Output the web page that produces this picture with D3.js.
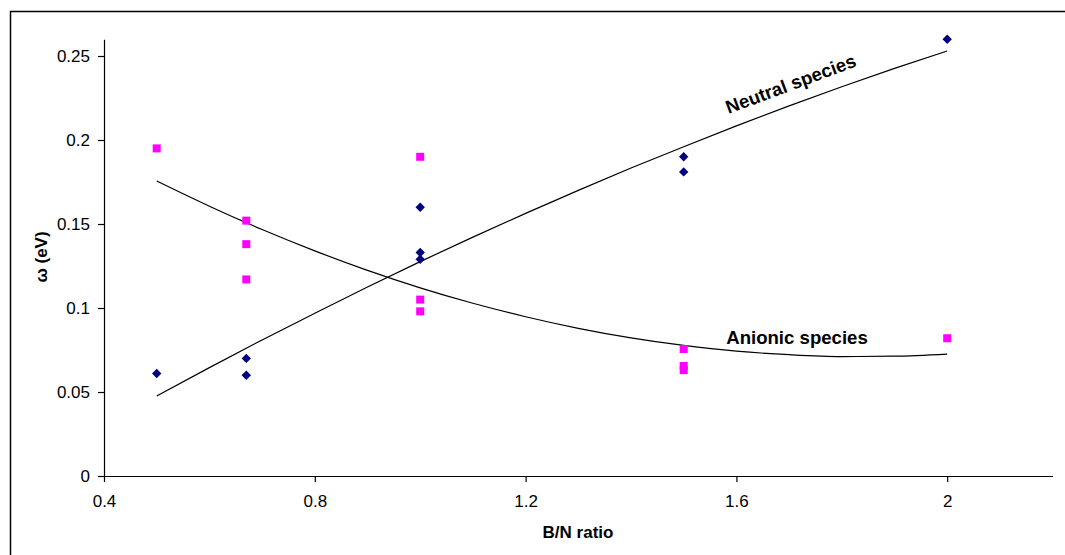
<!DOCTYPE html>
<html>
<head>
<meta charset="utf-8">
<script src="https://cdn.jsdelivr.net/npm/d3@7"></script>
<style>
  html, body { margin: 0; padding: 0; background: #fff; }
  svg { display: block; font-family: "Liberation Sans", Arial, sans-serif; }
</style>
</head>
<body>
<svg id="chart" width="1065" height="555"></svg>
<script>
// ---- data ----
const neutralX = [0.5, 0.67, 0.67, 1.0, 1.0, 1.0, 1.5, 1.5, 2.0];
const neutralY = [0.061, 0.070, 0.060, 0.160, 0.133, 0.129, 0.190, 0.181, 0.260];
const anionicX = [0.5, 0.67, 0.67, 0.67, 1.0, 1.0, 1.0, 1.5, 1.5, 1.5, 2.0];
const anionicY = [0.195, 0.152, 0.138, 0.117, 0.190, 0.105, 0.098, 0.0756, 0.0655, 0.063, 0.082];
// trend curves
const trendX = [0.5, 0.6, 0.7, 0.8, 0.9, 1.0, 1.1, 1.2, 1.3, 1.4, 1.5, 1.6, 1.7, 1.8, 1.9, 2.0];
const neutralTrendY = [0.0476, 0.0645, 0.0810, 0.0969, 0.1125, 0.1276, 0.1422, 0.1563, 0.1700, 0.1833, 0.1960, 0.2084, 0.2203, 0.2317, 0.2426, 0.2530];
const anionicTrendY = [0.1756, 0.1606, 0.1467, 0.1340, 0.1224, 0.1120, 0.1028, 0.0948, 0.0879, 0.0822, 0.0777, 0.0743, 0.0722, 0.0711, 0.0713, 0.0726];
const xTicks = [0.4, 0.8, 1.2, 1.6, 2.0];
const xTickLabels = ["0.4", "0.8", "1.2", "1.6", "2"];
const yTicks = [0, 0.05, 0.1, 0.15, 0.2, 0.25];
const yTickLabels = ["0", "0.05", "0.1", "0.15", "0.2", "0.25"];
const xTitle = "B/N ratio";
const yTitle = "ω (eV)";
const neutralLabel = "Neutral species";
const anionicLabel = "Anionic species";

// ---- drawing ----
const svg = d3.select("#chart");
svg.append("rect").attr("x", 10.5).attr("y", 11.5).attr("width", 1080).attr("height", 600)
  .attr("fill", "none").attr("stroke", "#000").attr("stroke-width", 1.5);

const x = d3.scaleLinear().domain([0.4, 2.2]).range([104, 1052.6]);
const y = d3.scaleLinear().domain([0, 0.26]).range([476, 39.2]);

const xAxis = svg.append("g").attr("transform", "translate(0,476)")
  .call(d3.axisBottom(x).tickValues(xTicks).tickFormat((d, i) => xTickLabels[i]).tickSizeInner(6).tickSizeOuter(0).tickPadding(13));
const yAxis = svg.append("g").attr("transform", "translate(104,0)")
  .call(d3.axisLeft(y).tickValues(yTicks).tickFormat((d, i) => yTickLabels[i]).tickSizeInner(6).tickSizeOuter(0).tickPadding(8));
[xAxis, yAxis].forEach(a => {
  a.selectAll("path, line").attr("stroke", "#000").attr("stroke-width", 1.2);
  a.selectAll("text").attr("font-size", 17).attr("fill", "#000").attr("font-family", "Liberation Sans, Arial, sans-serif");
});

// trend lines
const line = d3.line().x(d => x(d[0])).y(d => y(d[1])).curve(d3.curveMonotoneX);
svg.append("path").datum(trendX.map((v, i) => [v, neutralTrendY[i]]))
  .attr("d", line).attr("fill", "none").attr("stroke", "#000").attr("stroke-width", 1.2);
svg.append("path").datum(trendX.map((v, i) => [v, anionicTrendY[i]]))
  .attr("d", line).attr("fill", "none").attr("stroke", "#000").attr("stroke-width", 1.2);

// markers
const sq = d3.symbol().type(d3.symbolSquare).size(64);
svg.append("g").selectAll("path").data(anionicX.map((v, i) => [v, anionicY[i]])).join("path")
  .attr("d", sq).attr("fill", "#ff00ff")
  .attr("transform", d => `translate(${x(d[0])},${y(d[1])})`);
const dm = d3.symbol().type(d3.symbolSquare).size(44);
svg.append("g").selectAll("path").data(neutralX.map((v, i) => [v, neutralY[i]])).join("path")
  .attr("d", dm).attr("fill", "#000080")
  .attr("transform", d => `translate(${x(d[0])},${y(d[1])}) rotate(45)`);

// curve labels
svg.append("text").attr("transform", "translate(793,90) rotate(-20.5)")
  .attr("text-anchor", "middle").attr("font-size", 18.6).attr("font-weight", "bold").text(neutralLabel);
svg.append("text").attr("x", 797).attr("y", 344)
  .attr("text-anchor", "middle").attr("font-size", 18.6).attr("font-weight", "bold").text(anionicLabel);

// axis titles
svg.append("text").attr("x", 578).attr("y", 538).attr("text-anchor", "middle")
  .attr("font-size", 17).attr("font-weight", "bold").text(xTitle);
svg.append("text").attr("transform", "translate(47,257) rotate(-90)").attr("text-anchor", "middle")
  .attr("font-size", 17).attr("font-weight", "bold").text(yTitle);
</script>
</body>
</html>
